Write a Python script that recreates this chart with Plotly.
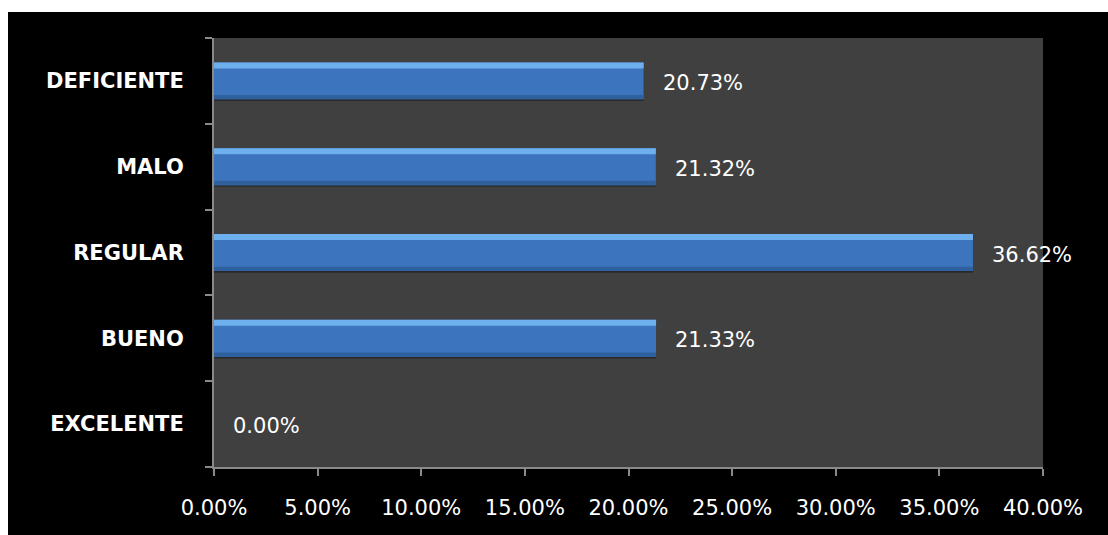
import plotly.graph_objects as go

categories = ["EXCELENTE", "BUENO", "REGULAR", "MALO", "DEFICIENTE"]
values = [0.0, 0.2133, 0.3662, 0.2132, 0.2073]
x_ticks = [0.0, 0.05, 0.10, 0.15, 0.20, 0.25, 0.30, 0.35, 0.40]

W, H = 1108, 535
L, R, T, B = 214, 65, 38, 68
pw, ph = W - L - R, H - T - B

fig = go.Figure()

# drop shadow
fig.add_trace(go.Bar(y=categories, x=values, orientation="h",
                     width=0.43, offset=-0.235,
                     marker=dict(color="rgba(0,0,0,0.35)", line=dict(width=0)),
                     hoverinfo="skip", showlegend=False))
# main bar
fig.add_trace(go.Bar(y=categories, x=values, orientation="h",
                     width=0.43, offset=-0.215,
                     marker=dict(color="#3c74bd", line=dict(width=0)),
                     showlegend=False))
# bottom darker bevel
fig.add_trace(go.Bar(y=categories, x=values, orientation="h",
                     width=0.05, offset=-0.215,
                     marker=dict(color="#30619f", line=dict(width=0)),
                     hoverinfo="skip", showlegend=False))
# top highlight bevel
fig.add_trace(go.Bar(y=categories, x=values, orientation="h",
                     width=0.07, offset=0.145,
                     marker=dict(color="#6eb0ee", line=dict(width=0)),
                     hoverinfo="skip", showlegend=False))

annotations = []
for c, v in zip(categories, values):
    annotations.append(dict(x=v, y=c, xref="x", yref="y", text=f"{v*100:.2f}%",
                            showarrow=False, xanchor="left", xshift=17, yshift=-2,
                            font=dict(family="DejaVu Sans", size=21, color="#ffffff")))

shapes = [
    # white strip on top
    dict(type="rect", xref="paper", yref="paper", x0=-L / pw, x1=(W - L) / pw,
         y0=(H - B - 12) / ph + 0.0, y1=(H - B) / ph + 0.01,
         fillcolor="white", line=dict(width=0), layer="above"),
    # white strip on left
    dict(type="rect", xref="paper", yref="paper", x0=-L / pw - 0.01, x1=(8 - L) / pw,
         y0=-B / ph - 0.01, y1=(H - B) / ph + 0.01,
         fillcolor="white", line=dict(width=0), layer="above"),
]

fig.update_layout(
    width=W, height=H,
    margin=dict(l=L, r=R, t=T, b=B),
    paper_bgcolor="black",
    plot_bgcolor="#404040",
    barmode="overlay",
    showlegend=False,
    annotations=annotations,
    shapes=shapes,
    xaxis=dict(range=[0, 0.4], tickvals=x_ticks, tickformat=".2%",
               showgrid=False, zeroline=False,
               showline=True, linecolor="#8a8a8a", linewidth=2,
               ticks="outside", ticklen=7, tickwidth=2, tickcolor="#8a8a8a",
               ticklabelstandoff=14,
               tickfont=dict(family="DejaVu Sans", size=21, color="#ffffff")),
    yaxis=dict(categoryorder="array", categoryarray=categories,
               range=[-0.5, 4.5],
               showgrid=False, zeroline=False,
               showline=True, linecolor="#8a8a8a", linewidth=2,
               ticks="outside", ticklen=7, tickwidth=2, tickcolor="#8a8a8a",
               tickson="boundaries", ticklabelstandoff=24,
               tickfont=dict(family="DejaVu Sans", size=21, color="#ffffff", weight="bold")),
)

fig.write_html("out.html")
